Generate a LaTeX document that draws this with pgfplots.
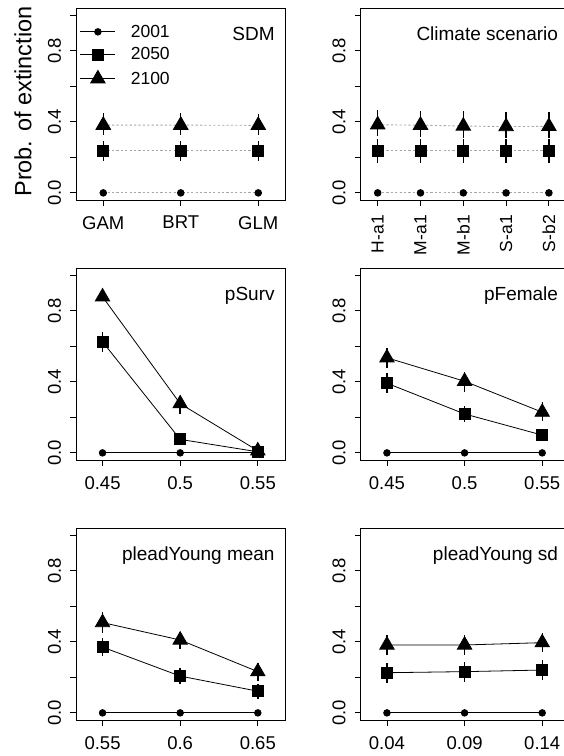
\documentclass[border=0pt]{standalone}
\usepackage{pgfplots}
\pgfplotsset{compat=1.18}
\usepackage{fontspec}
\setmainfont{Liberation Sans}
\usetikzlibrary{calc}

\pgfplotsset{
  panel/.style={
    scale only axis, width=209pt, height=192pt, anchor=south west,
    ymin=-0.04, ymax=1.04,
    ytick={0,0.2,0.4,0.6,0.8,1},
    yticklabels={0.0,{},0.4,{},0.8,{}},
    tick align=outside, major tick length=6pt,
    tick pos=left,
    tick style={black, line width=0.8pt},
    axis line style={black, line width=0.9pt},
    tick label style={font=\fontsize{18.5}{20}\selectfont},
    yticklabel style={rotate=90, anchor=south, inner sep=0pt, inner ysep=9pt},
    xticklabel style={anchor=north, inner sep=0pt, inner ysep=10pt},
    clip=false,
  },
  numx/.style={xmin=#1-0.0669, xmax=#1+0.0677},
  eb/.style={error bars/y dir=both, error bars/y explicit, error bars/error mark=none,
     error bars/error bar style={line width=1.4pt, black, solid}},
  sA/.style={black, line width=0.8pt, mark=*, mark size=3.3pt, mark options={solid, fill=black}},
  sB/.style={black, line width=0.8pt, mark=square*, mark size=5.5pt, mark options={solid, fill=black}, eb},
  sC/.style={black, line width=0.8pt, mark=triangle*, mark size=8.3pt, mark options={solid, fill=black}, eb},
  dot/.style={gray!70, dash pattern=on 2.2pt off 2.2pt, line width=0.9pt, mark options={solid, fill=black, draw=black}},
}
\newcommand{\ptitle}[1]{\node[anchor=base east, font=\fontsize{19}{20}\selectfont, inner sep=0pt] at ($(rel axis cs:1,1)+(-10.5pt,-32.5pt)$) {#1};}
\newcommand{\ptitleR}[1]{\node[anchor=base east, font=\fontsize{19}{20}\selectfont, inner sep=0pt] at ($(rel axis cs:1,1)+(-11.5pt,-32.5pt)$) {#1};}

\begin{document}
\begin{tikzpicture}
% ---------- Panel 1: SDM ----------
\begin{axis}[panel, at={(76.3pt,556pt)},
  xmin=0.652, xmax=3.349, xtick={1,2,3}, xticklabels={GAM,BRT,GLM},
  legend style={draw=none, fill=none, at={(rel axis cs:0,1)}, anchor=north west,
    xshift=3.7pt, yshift=-17pt, inner sep=0pt, outer sep=0pt, row sep=9.0pt,
    font=\fontsize{17.5}{18}\selectfont,
    nodes={inner sep=0pt},
    /tikz/every odd column/.style={column sep=15pt}},
  legend cell align=left,
  legend image code/.code={\draw[mark repeat=2,mark phase=2,#1] plot coordinates {(0pt,0pt) (17.5pt,0pt) (35pt,0pt)};},
]
\addlegendimage{sA, solid}
\addlegendimage{black, line width=0.8pt, mark=square*, mark size=5.5pt, mark options={solid, fill=black}}
\addlegendimage{black, line width=0.8pt, mark=triangle*, mark size=8.3pt, mark options={solid, fill=black}}
\legend{2001,2050,2100}
\addplot[sA, dot] table {
x y
1 0
2 0
3 0
};
\addplot[sB, dot] table[x=x, y=y, y error plus=ep, y error minus=em] {
x y ep em
1 0.236 0.055 0.055
2 0.236 0.055 0.055
3 0.236 0.055 0.055
};
\addplot[sC, dot] table[x=x, y=y, y error plus=ep, y error minus=em] {
x y ep em
1 0.381 0.066 0.056
2 0.381 0.066 0.056
3 0.380 0.066 0.056
};
\ptitle{SDM}
\node[rotate=90, font=\fontsize{23.5}{24}\selectfont, inner sep=0pt] at ($(rel axis cs:0,0.5)+(-53.3pt,2.5pt)$) {Prob. of extinction};
\end{axis}

% ---------- Panel 2: Climate scenario ----------
\begin{axis}[panel, at={(360.7pt,556pt)},
  xmin=0.603, xmax=5.486, xtick={1,2,3,4,5}, xticklabels={H-a1,M-a1,M-b1,S-a1,S-b2},
  xticklabel style={rotate=90, anchor=east, inner sep=0pt, inner xsep=9pt, font=\fontsize{17.5}{18}\selectfont},
]
\addplot[sA, dot] table {
x y
1 0
2 0
3 0
4 0
5 0
};
\addplot[sB, dot] table[x=x, y=y, y error plus=ep, y error minus=em] {
x y ep em
1 0.236 0.065 0.068
2 0.236 0.065 0.068
3 0.236 0.065 0.068
4 0.236 0.065 0.068
5 0.236 0.065 0.068
};
\addplot[sC, dot] table[x=x, y=y, y error plus=ep, y error minus=em] {
x y ep em
1 0.383 0.082 0.065
2 0.381 0.082 0.065
3 0.376 0.082 0.065
4 0.373 0.082 0.065
5 0.374 0.082 0.065
};
\ptitleR{Climate scenario}
\end{axis}

% ---------- Panel 3: pSurv ----------
\begin{axis}[panel, at={(76.3pt,296pt)}, numx=0.5,
  xtick={0.45,0.5,0.55}, xticklabels={0.45,0.5,0.55},
]
\addplot[sA] table {
x y
0.45 0
0.5 0
0.55 0
};
\addplot[sB] table[x=x, y=y, y error plus=ep, y error minus=em] {
x y ep em
0.45 0.625 0.055 0.055
0.5 0.076 0.020 0.020
0.55 0.006 0.005 0.005
};
\addplot[sC] table[x=x, y=y, y error plus=ep, y error minus=em] {
x y ep em
0.45 0.878 0.020 0.020
0.5 0.277 0.045 0.060
0.55 0.012 0.010 0.010
};
\ptitle{pSurv}
\end{axis}

% ---------- Panel 4: pFemale ----------
\begin{axis}[panel, at={(360.7pt,296pt)}, numx=0.5,
  xtick={0.45,0.5,0.55}, xticklabels={0.45,0.5,0.55},
]
\addplot[sA] table {
x y
0.45 0
0.5 0
0.55 0
};
\addplot[sB] table[x=x, y=y, y error plus=ep, y error minus=em] {
x y ep em
0.45 0.392 0.056 0.056
0.5 0.219 0.045 0.045
0.55 0.100 0.030 0.030
};
\addplot[sC] table[x=x, y=y, y error plus=ep, y error minus=em] {
x y ep em
0.45 0.535 0.056 0.060
0.5 0.403 0.050 0.060
0.55 0.229 0.055 0.050
};
\ptitleR{pFemale}
\end{axis}

% ---------- Panel 5: pleadYoung mean ----------
\begin{axis}[panel, at={(76.3pt,36pt)}, numx=0.6,
  xtick={0.55,0.6,0.65}, xticklabels={0.55,0.6,0.65},
]
\addplot[sA] table {
x y
0.55 0
0.6 0
0.65 0
};
\addplot[sB] table[x=x, y=y, y error plus=ep, y error minus=em] {
x y ep em
0.55 0.370 0.050 0.050
0.6 0.207 0.047 0.047
0.65 0.122 0.043 0.043
};
\addplot[sC] table[x=x, y=y, y error plus=ep, y error minus=em] {
x y ep em
0.55 0.508 0.062 0.060
0.6 0.410 0.045 0.050
0.65 0.232 0.047 0.050
};
\ptitle{pleadYoung mean}
\end{axis}

% ---------- Panel 6: pleadYoung sd ----------
\begin{axis}[panel, at={(360.7pt,36pt)}, numx=0.09,
  xtick={0.04,0.09,0.14}, xticklabels={0.04,0.09,0.14},
]
\addplot[sA] table {
x y
0.04 0
0.09 0
0.14 0
};
\addplot[sB] table[x=x, y=y, y error plus=ep, y error minus=em] {
x y ep em
0.04 0.226 0.056 0.056
0.09 0.232 0.056 0.056
0.14 0.241 0.056 0.056
};
\addplot[sC] table[x=x, y=y, y error plus=ep, y error minus=em] {
x y ep em
0.04 0.382 0.055 0.055
0.09 0.382 0.055 0.055
0.14 0.395 0.055 0.055
};
\ptitleR{pleadYoung sd}
\end{axis}

\pgfresetboundingbox
\path[use as bounding box] (0,0) rectangle (564pt,756pt);
\end{tikzpicture}
\end{document}
